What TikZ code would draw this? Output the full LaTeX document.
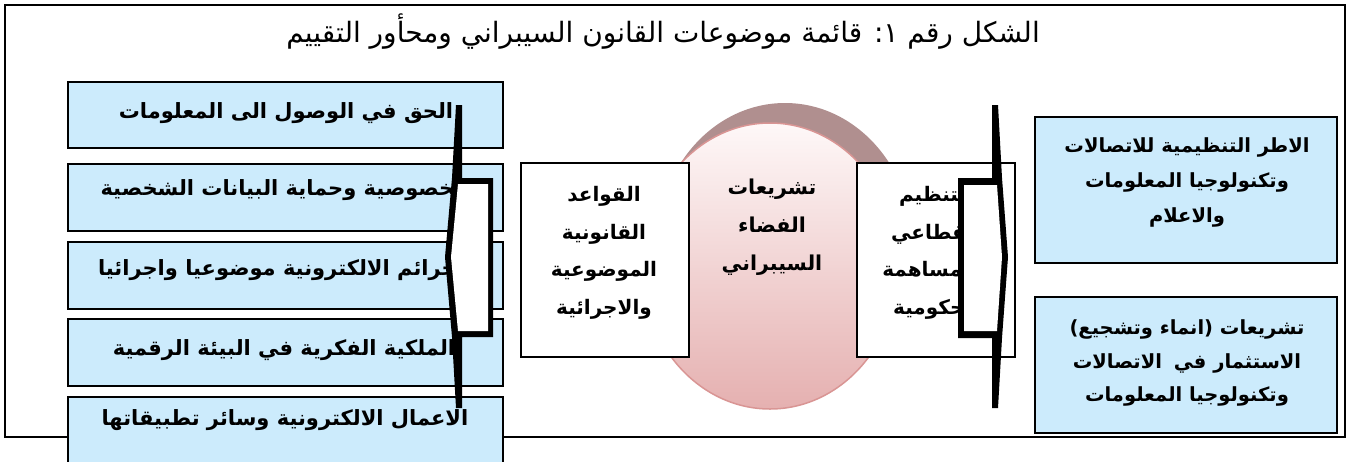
\documentclass[tikz,border=0pt]{standalone}
\usepackage{fontspec}
\setmainfont{DejaVu Sans}
\newfontfamily\arabicfont[Script=Arabic]{DejaVu Sans}
\TeXXeTstate=1
\usetikzlibrary{shapes.geometric}
\newcommand\RL[1]{\beginR #1\endR}
\definecolor{lblue}{RGB}{204,235,252}
\definecolor{mauve}{RGB}{176,143,143}
\definecolor{pinkline}{RGB}{217,149,148}
\definecolor{pinktop}{RGB}{254,248,248}
\definecolor{pinkbot}{RGB}{229,176,176}
\tikzset{
  bluebox/.style={draw=black, line width=1.8pt, fill=lblue, inner sep=0pt},
  whitebox/.style={draw=black, line width=1.8pt, fill=white, inner sep=0pt},
  artxt/.style={font={\arabicfont\bfseries\fontsize{21}{35}\selectfont}, align=center, inner sep=0pt},
  midtxt/.style={font={\arabicfont\bfseries\fontsize{20}{37.5}\selectfont}, align=center, inner sep=0pt},
  rtxt/.style={font={\arabicfont\bfseries\fontsize{19.5}{35}\selectfont}, align=center, inner sep=0pt},
  bracketfill/.style={fill=black},
}
\begin{document}
\begin{tikzpicture}[x=1pt,y=-1pt]
\useasboundingbox (0,0) rectangle (1351,461);
\clip (0,0) rectangle (1351,461);
% frame
\node[draw=black, line width=2pt, minimum width=1340pt, minimum height=432pt, inner sep=0pt] (frame) at (675,221) {};
% title
\node[font={\arabicfont\fontsize{28}{32}\selectfont}, inner sep=0pt] (title) at (663,32) {\RL{الشكل رقم ١: قائمة موضوعات القانون السيبراني ومحأور التقييم}};
% left boxes
\node[bluebox, minimum width=435pt, minimum height=66pt] (b1) at (285.5,115) {};
\node[bluebox, minimum width=435pt, minimum height=67pt] (b2) at (285.5,197.5) {};
\node[bluebox, minimum width=435pt, minimum height=67pt] (b3) at (285.5,275.5) {};
\node[bluebox, minimum width=435pt, minimum height=67pt] (b4) at (285.5,352.5) {};
\node[bluebox, minimum width=435pt, minimum height=70pt] (b5) at (285.5,432) {};
\node[artxt] (t1) at (286,113) {\RL{الحق في الوصول الى المعلومات}};
\node[artxt] (t2) at (285,190) {\RL{الخصوصية وحماية البيانات الشخصية}};
\node[artxt] (t3) at (285,270) {\RL{الجرائم الالكترونية موضوعيا واجرائيا}};
\node[artxt] (t4) at (284,350) {\RL{الملكية الفكرية في البيئة الرقمية}};
\node[artxt] (t5) at (285,420) {\RL{الاعمال الالكترونية وسائر تطبيقاتها}};
% left bracket
\fill[bracketfill] (456,105) -- (462,105) -- (462,178) -- (493,178) -- (493,337) -- (462,337) -- (462,408) -- (456,408) -- (452,337) -- (445,257) -- (452,178) -- cycle;
\fill[white] (458,184) -- (488,184) -- (488,331) -- (458,331) -- (451,257) -- cycle;
% central ellipse
\node[ellipse, fill=mauve, minimum width=256pt, minimum height=286pt, inner sep=0pt] (shadow) at (785,246) {};
\node[ellipse, draw=pinkline, line width=1.5pt, top color=pinktop, bottom color=pinkbot, minimum width=256pt, minimum height=286pt, inner sep=0pt] (cyber) at (770,266) {};
\node[midtxt, font={\arabicfont\bfseries\fontsize{20.5}{38}\selectfont}] (ct) at (772,227) {\RL{تشريعات}\\\RL{الفضاء}\\\RL{السيبراني}};
% middle boxes
\node[whitebox, minimum width=168pt, minimum height=194pt] (ml) at (605,260) {};
\node[midtxt] (mlt) at (604,253) {\RL{القواعد}\\\RL{القانونية}\\\RL{الموضوعية}\\\RL{والاجرائية}};
\node[whitebox, line width=1.2pt, minimum width=158pt, minimum height=194pt] (mr) at (936,260) {};
\node[midtxt] (mrt) at (936,253) {\RL{التنظيم}\\\RL{القطاعي}\\\RL{والمساهمة}\\\RL{الحكومية}};
% right bracket
\fill[bracketfill] (992,105) -- (998,105) -- (1002,178) -- (1008,257) -- (1002,338) -- (998,408) -- (992,408) -- (992,338) -- (958,338) -- (958,178) -- (992,178) -- cycle;
\fill[white] (964,185) -- (997,185) -- (1002,257) -- (997,331) -- (964,331) -- cycle;
% right boxes
\node[bluebox, minimum width=302pt, minimum height=146pt] (r1) at (1186,190) {};
\node[rtxt] (r1t) at (1187,182) {\RL{الاطر التنظيمية للاتصالات}\\\RL{وتكنولوجيا المعلومات}\\\RL{والاعلام}};
\node[bluebox, minimum width=302pt, minimum height=136pt] (r2) at (1186,365) {};
\node[rtxt, font={\arabicfont\bfseries\fontsize{19.5}{33.5}\selectfont}] (r2t) at (1187,363) {\RL{تشريعات (انماء وتشجيع)}\\\RL{الاستثمار في\hspace{12pt}الاتصالات}\\\RL{وتكنولوجيا المعلومات}};
\end{tikzpicture}
\end{document}
